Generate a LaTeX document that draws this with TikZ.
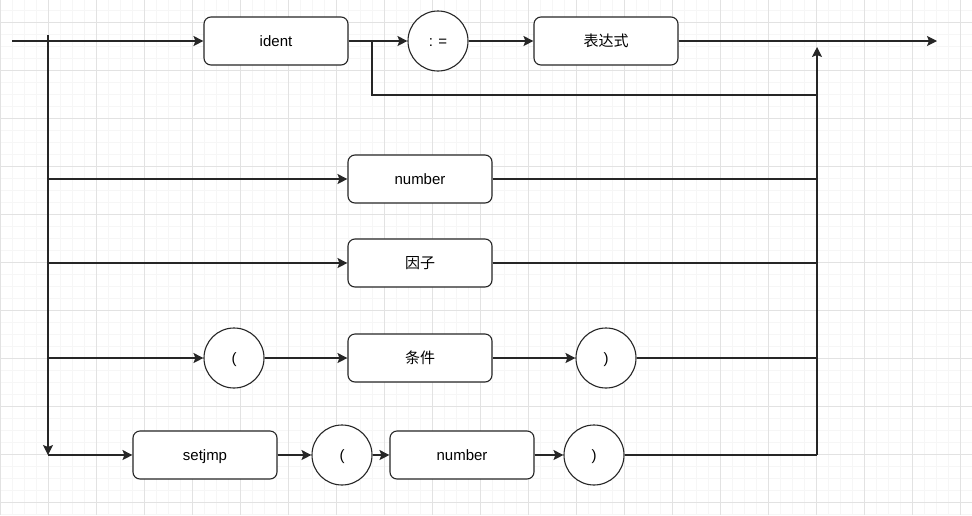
\documentclass[tikz,border=0pt]{standalone}
\usepackage{fontspec}
\setmainfont{Liberation Sans}
\newfontfamily\cjk{Noto Sans CJK SC}
\usetikzlibrary{arrows.meta}
\definecolor{gmajor}{HTML}{E2E2E2}
\definecolor{gminor}{HTML}{F6F6F6}
\tikzset{
  rbox/.style={draw=black!85, line width=1.1pt, rounded corners=7pt, minimum width=144pt, minimum height=48pt, inner sep=0pt, text height=14pt, text depth=3pt, font=\fontsize{15}{16}\selectfont, fill=white},
  rcirc/.style={draw=black!85, line width=1.1pt, circle, minimum size=60pt, inner sep=0pt, text height=14pt, text depth=3pt, font=\fontsize{15}{16}\selectfont, fill=white},
  conn/.style={draw=black!85, line width=1.2pt},
  arr/.style={conn, -{Stealth[length=10pt, width=10pt, inset=2pt]}},
}
\begin{document}
\begin{tikzpicture}[x=1pt, y=-1pt]
\useasboundingbox (0,0) rectangle (972,515);
\fill[white] (0,0) rectangle (972,515);
% minor grid
\foreach \i in {0,...,81} {\draw[gminor, line width=0.8pt] (\i*12,0) -- (\i*12,515);}
\foreach \j in {0,...,43} {\draw[gminor, line width=0.8pt] (0,\j*12-2) -- (972,\j*12-2);}
% major grid
\foreach \i in {0,...,20} {\draw[gmajor, line width=0.9pt] (\i*48,0) -- (\i*48,515);}
\foreach \j in {0,...,10} {\draw[gmajor, line width=0.9pt] (0,\j*48+22) -- (972,\j*48+22);}

% nodes
\node[rbox] (ident) at (276,41) {ident};
\node[rcirc] (assign) at (438,41) {: =};
\node[rbox] (expr) at (606,41) {\cjk 表达式};
\node[rbox] (num1) at (420,179) {number};
\node[rbox] (factor) at (420,263) {\cjk 因子};
\node[rcirc] (lp1) at (234,358) {(};
\node[rbox] (cond) at (420,358) {\cjk 条件};
\node[rcirc] (rp1) at (606,358) {)};
\node[rbox] (setjmp) at (205,455) {setjmp};
\node[rcirc] (lp2) at (342,455) {(};
\node[rbox] (num2) at (462,455) {number};
\node[rcirc] (rp2) at (594,455) {)};

% coordinates
\coordinate (start) at (12,41);
\coordinate (trunktop) at (48,35);
\coordinate (trunkbot) at (48,455);
\coordinate (t179) at (48,179);
\coordinate (t263) at (48,263);
\coordinate (t358) at (48,358);
\coordinate (split) at (372,41);
\coordinate (bypass) at (372,95);
\coordinate (bypassend) at (817,95);
\coordinate (colbot) at (817,455);
\coordinate (coltop) at (817,47);
\coordinate (end) at (937,41);
\coordinate (c179) at (817,179);
\coordinate (c263) at (817,263);
\coordinate (c358) at (817,358);

% connectors
\draw[arr] (start) -- (ident.west);
\draw[arr] (trunktop) -- (trunkbot);
\draw[arr] (ident.east) -- (assign.west);
\draw[arr] (assign.east) -- (expr.west);
\draw[arr] (expr.east) -- (end);
\draw[conn] (split) -- (bypass) -- (bypassend);
\draw[arr] (colbot) -- (coltop);
\draw[arr] (t179) -- (num1.west);
\draw[conn] (num1.east) -- (c179);
\draw[arr] (t263) -- (factor.west);
\draw[conn] (factor.east) -- (c263);
\draw[arr] (t358) -- (lp1.west);
\draw[arr] (lp1.east) -- (cond.west);
\draw[arr] (cond.east) -- (rp1.west);
\draw[conn] (rp1.east) -- (c358);
\draw[arr] (trunkbot) -- (setjmp.west);
\draw[arr] (setjmp.east) -- (lp2.west);
\draw[arr] (lp2.east) -- (num2.west);
\draw[arr] (num2.east) -- (rp2.west);
\draw[conn] (rp2.east) -- (colbot);
\end{tikzpicture}
\end{document}
